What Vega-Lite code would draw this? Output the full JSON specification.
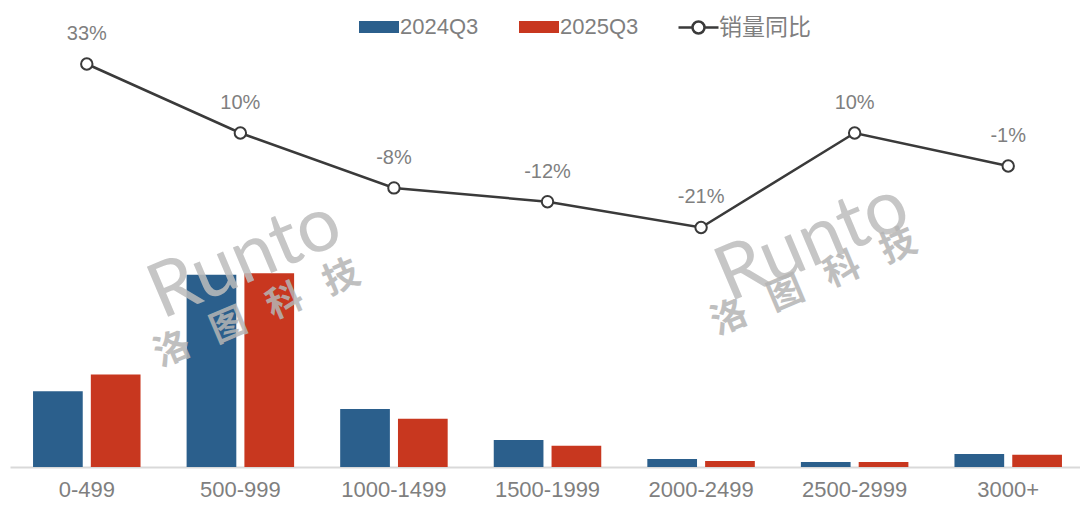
{
"$schema":"https://vega.github.io/schema/vega-lite/v6.json",
"autosize":{"type":"none"},
"width":1080,"height":467,
"padding":{"left":0,"top":0,"right":0,"bottom":44},
"background":"white",
"config":{"view":{"stroke":null},"font":"Liberation Sans"},
"datasets":{
"bars":[
{"band":"0-499","period":"2024Q3","share":20.0},{"band":"0-499","period":"2025Q3","share":24.4},
{"band":"500-999","period":"2024Q3","share":50.7},{"band":"500-999","period":"2025Q3","share":51.1},
{"band":"1000-1499","period":"2024Q3","share":15.3},{"band":"1000-1499","period":"2025Q3","share":12.7},
{"band":"1500-1999","period":"2024Q3","share":7.1},{"band":"1500-1999","period":"2025Q3","share":5.6},
{"band":"2000-2499","period":"2024Q3","share":2.1},{"band":"2000-2499","period":"2025Q3","share":1.6},
{"band":"2500-2999","period":"2024Q3","share":1.3},{"band":"2500-2999","period":"2025Q3","share":1.3},
{"band":"3000+","period":"2024Q3","share":3.4},{"band":"3000+","period":"2025Q3","share":3.2}],
"yoy":[
{"band":"0-499","yoy":33,"label":"33%","series":"销量同比"},
{"band":"500-999","yoy":10,"label":"10%","series":"销量同比"},
{"band":"1000-1499","yoy":-8.3,"label":"-8%","series":"销量同比"},
{"band":"1500-1999","yoy":-12.9,"label":"-12%","series":"销量同比"},
{"band":"2000-2499","yoy":-21.5,"label":"-21%","series":"销量同比"},
{"band":"2500-2999","yoy":10,"label":"10%","series":"销量同比"},
{"band":"3000+","yoy":-1,"label":"-1%","series":"销量同比"}],
"mark1":[{"band":"500-999","pos":-32.7,"t":"Runto"}],
"mark2":[{"band":"2500-2999","pos":-20.3,"t":"Runto"}],
"markcn1":[{"band":"500-999","pos":-52.7,"t":"洛\u2002\u2009图\u2002\u2009科\u2002\u2009技"}],
"markcn2":[{"band":"2500-2999","pos":-34,"t":"洛\u2002\u2009图\u2002\u2009科\u2002\u2009技"}]
},
"encoding":{
"x":{"field":"band","type":"nominal","sort":null,
"scale":{"domain":["0-499","500-999","1000-1499","1500-1999","2000-2499","2500-2999","3000+"],"range":[10,1085],"paddingInner":0.3,"paddingOuter":0.15},
"axis":{"title":null,"labelAngle":0,"ticks":false,"domainColor":"#d9d9d9","domainWidth":2,"labelColor":"#7f7f7f","labelFontSize":22,"labelPadding":12,"grid":false,"labelFont":"Liberation Sans"}}
},
"layer":[
{"data":{"name":"bars"},
 "mark":{"type":"bar","strokeWidth":1},
 "encoding":{
  "xOffset":{"field":"period","type":"nominal","scale":{"paddingInner":0.14,"paddingOuter":0}},
  "y":{"field":"share","type":"quantitative","scale":{"domain":[0,123.2]},"axis":null},
  "color":{"field":"period","type":"nominal","scale":{"domain":["2024Q3","2025Q3"],"range":["#2b5f8c","#c8371f"]},
   "legend":{"title":null,"orient":"none","legendX":359,"legendY":7,"direction":"horizontal","symbolType":"M-1,-0.3H1V0.3H-1Z","symbolSize":1600,"labelFontSize":22,"labelColor":"#7f7f7f","labelFont":"Liberation Sans","columnPadding":40,"labelOffset":1,"symbolStrokeWidth":0,"symbolOpacity":1}}
 }},
{"data":{"name":"yoy"},
 "mark":{"type":"line","strokeWidth":2.5},
 "encoding":{
  "y":{"field":"yoy","type":"quantitative","scale":{"domain":[-101.33,54.33]},"axis":null},
  "stroke":{"field":"series","type":"nominal","scale":{"domain":["销量同比"],"range":["#3a3a3a"]},
   "legend":{"title":null,"orient":"none","legendX":677,"legendY":6,"symbolType":"M-1,0H-0.3M0.3,0H1M0.3,0A0.3,0.3 0 1 1 -0.3,0A0.3,0.3 0 1 1 0.3,0","symbolSize":1600,"symbolStrokeWidth":2.5,"symbolFillColor":"white","labelFontSize":23,"labelColor":"#7f7f7f","labelFont":"Noto Sans CJK SC","labelOffset":-1}}
 }},
{"data":{"name":"yoy"},
 "mark":{"type":"point","filled":true,"fill":"white","stroke":"#3a3a3a","strokeWidth":2,"size":130,"opacity":1},
 "encoding":{"y":{"field":"yoy","type":"quantitative","scale":{"domain":[-101.33,54.33]},"axis":null}}},
{"data":{"name":"yoy"},
 "mark":{"type":"text","fontSize":20,"color":"#7f7f7f","dy":-30},
 "encoding":{"y":{"field":"yoy","type":"quantitative","scale":{"domain":[-101.33,54.33]},"axis":null},"text":{"field":"label"}}},
{"data":{"name":"mark1"},
 "mark":{"type":"text","fontSize":76,"font":"Lato","fontWeight":400,"angle":337,"color":"#bdbdbd","opacity":0.85,"dx":5},
 "encoding":{"y":{"field":"pos","type":"quantitative","scale":{"domain":[-101.33,54.33]},"axis":null},"text":{"field":"t"}}},
{"data":{"name":"mark2"},
 "mark":{"type":"text","fontSize":76,"font":"Lato","fontWeight":400,"angle":337,"color":"#bdbdbd","opacity":0.85,"dx":-46},
 "encoding":{"y":{"field":"pos","type":"quantitative","scale":{"domain":[-101.33,54.33]},"axis":null},"text":{"field":"t"}}},
{"data":{"name":"markcn1"},
 "mark":{"type":"text","fontSize":36,"font":"Noto Sans CJK SC","fontWeight":"bold","angle":337,"color":"#b5b5b5","opacity":0.85,"dx":18},
 "encoding":{"y":{"field":"pos","type":"quantitative","scale":{"domain":[-101.33,54.33]},"axis":null},"text":{"field":"t"}}},
{"data":{"name":"markcn2"},
 "mark":{"type":"text","fontSize":36,"font":"Noto Sans CJK SC","fontWeight":"bold","angle":337,"color":"#b5b5b5","opacity":0.85,"dx":-44},
 "encoding":{"y":{"field":"pos","type":"quantitative","scale":{"domain":[-101.33,54.33]},"axis":null},"text":{"field":"t"}}}
],
"resolve":{"scale":{"y":"independent","color":"independent","stroke":"independent"}}
}
